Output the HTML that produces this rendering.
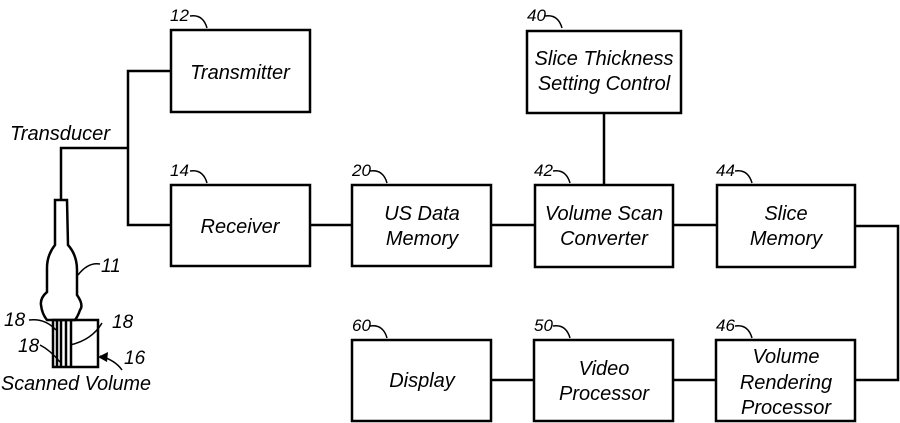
<!DOCTYPE html>
<html><head><style>
html,body{margin:0;padding:0;background:#fff;}
svg{display:block;}
text{font-family:"Liberation Sans",sans-serif;font-style:italic;fill:#000;}
.b{font-size:20px;}
.n{font-size:17px;}
</style></head><body>
<svg width="900" height="423" viewBox="0 0 900 423" xmlns="http://www.w3.org/2000/svg">
<g fill="none" stroke="#000" stroke-width="2.5">
<rect x="171" y="30" width="139" height="82"/>
<rect x="171" y="185" width="139" height="81"/>
<rect x="352" y="185" width="139" height="81"/>
<rect x="535" y="185" width="138" height="82"/>
<rect x="717" y="185" width="138" height="82"/>
<rect x="527" y="31" width="154" height="82"/>
<rect x="352" y="340" width="139" height="81"/>
<rect x="534" y="340" width="139" height="81"/>
<rect x="716" y="340" width="139" height="81"/>
<polyline points="171,71 128,71 128,225 171,225"/>
<polyline points="61,200 61,148 128,148"/>
<line x1="310" y1="225" x2="352" y2="225"/>
<line x1="491" y1="225" x2="535" y2="225"/>
<line x1="673" y1="225" x2="717" y2="225"/>
<line x1="604" y1="113" x2="604" y2="185"/>
<polyline points="855,226 898,226 898,380 855,380"/>
<line x1="491" y1="380" x2="534" y2="380"/>
<line x1="673" y1="380" x2="716" y2="380"/>
<path d="M55,200 L67,200 L68,245 Q77,255 77,270 L77,295 Q84,305 80,310 Q78,316 75,320 L47,320 Q42,314 41,305 Q40,298 47,292 L47,268 Q47,255 55,245 Z"/>
<rect x="53" y="320" width="45" height="47"/>
<line x1="57" y1="320" x2="57" y2="367"/>
<line x1="61" y1="320" x2="61" y2="367"/>
<line x1="66" y1="320" x2="66" y2="367"/>
<line x1="71" y1="320" x2="71" y2="367"/>
<g stroke-width="1.5">
<path d="M78,275 Q88,262 100,264"/>
<path d="M29,320 Q45,318 56,330"/>
<path d="M40,345 Q50,350 60,362"/>
<path d="M70,345 Q92,340 102,323"/>
<path d="M100,356 Q115,360 122,370"/>
<path d="M190,16 Q203,14 207,28 M190,171 Q203,169 207,183 M370,171 Q383,169 387,183 M553,171 Q566,169 570,183 M735,171 Q748,169 752,183 M545,16 Q558,14 562,28 M370,326 Q383,324 387,338 M553,326 Q566,324 570,338 M735,326 Q748,324 752,338"/>
</g>
</g>
<path d="M98,357 L108,352 L107,362 Z" fill="#000"/>
<g class="b" text-anchor="middle">
<text x="240" y="79">Transmitter</text>
<text x="240" y="233">Receiver</text>
<text x="422" y="220">US Data</text>
<text x="422" y="245">Memory</text>
<text x="604" y="220">Volume Scan</text>
<text x="604" y="245">Converter</text>
<text x="786" y="220">Slice</text>
<text x="786" y="245">Memory</text>
<text x="604" y="65">Slice Thickness</text>
<text x="604" y="90">Setting Control</text>
<text x="422" y="387">Display</text>
<text x="604" y="375">Video</text>
<text x="604" y="400">Processor</text>
<text x="786" y="363">Volume</text>
<text x="786" y="389">Rendering</text>
<text x="786" y="414">Processor</text>
<text x="60" y="140" textLength="100" lengthAdjust="spacingAndGlyphs">Transducer</text>
<text x="76" y="390" textLength="150" lengthAdjust="spacingAndGlyphs">Scanned Volume</text>
</g>
<g class="n">
<text x="170" y="21">12</text>
<text x="170" y="176">14</text>
<text x="352" y="176">20</text>
<text x="534" y="176">42</text>
<text x="716" y="176">44</text>
<text x="527" y="21">40</text>
<text x="352" y="331">60</text>
<text x="534" y="331">50</text>
<text x="716" y="331">46</text>
<text x="101" y="272" font-size="19">11</text>
<text x="4" y="326" font-size="19">18</text>
<text x="18" y="352" font-size="19">18</text>
<text x="112" y="328" font-size="19">18</text>
<text x="124" y="364" font-size="19">16</text>
</g>
</svg>
</body></html>
